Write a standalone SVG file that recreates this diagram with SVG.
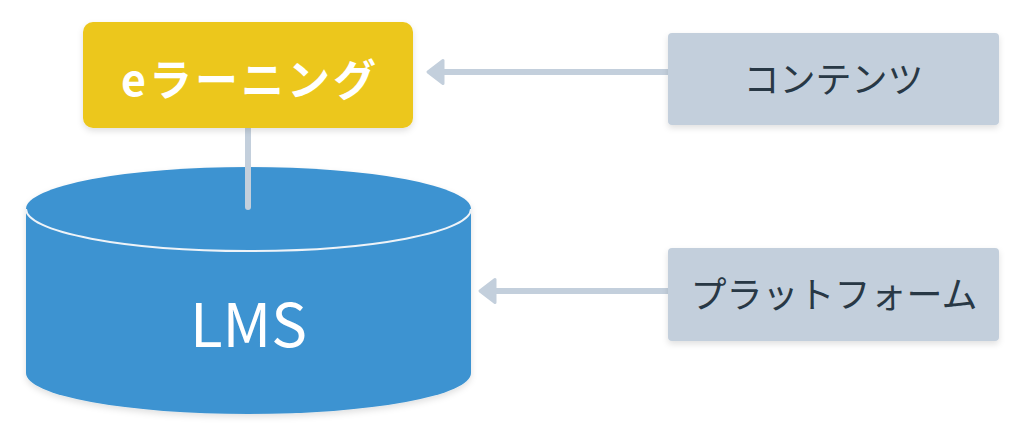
<svg xmlns="http://www.w3.org/2000/svg" width="1024" height="444" viewBox="0 0 1024 444">
  <style>
    .cjk { font-family: "Noto Sans CJK JP", "Noto Sans", sans-serif; }
    .gray { fill: #C3CFDC; }
    .dark { fill: #283845; font-size: 36px; font-weight: 400; }
    .conn { stroke: #C3CFDC; stroke-width: 6; fill: none; }
  </style>
  <defs>
    <filter id="sh" x="-10%" y="-10%" width="120%" height="130%">
      <feDropShadow dx="0" dy="3" stdDeviation="3" flood-color="#000" flood-opacity="0.12"/>
    </filter>
    <marker id="ah" markerUnits="userSpaceOnUse" viewBox="-3 -15 22 30" markerWidth="22" markerHeight="30" refX="0" refY="0" orient="auto">
      <path d="M0,-11.5 L15,0 L0,11.5 Z" fill="#C3CFDC" stroke="#C3CFDC" stroke-width="3" stroke-linejoin="round"/>
    </marker>
  </defs>
  <rect width="1024" height="444" fill="#FFFFFF"/>

  <g id="lms">
    <path d="M26,209 A222.5,42 0 0 1 471,209 L471,373 A222.5,41 0 0 1 26,373 Z" fill="#3D93D1" filter="url(#sh)"/>
    <path d="M26,209 A222.5,42 0 0 0 471,209" fill="none" stroke="#EEF3F8" stroke-width="2"/>
    <text x="248.5" y="347" class="cjk" font-size="60" fill="#FFFFFF" text-anchor="middle">LMS</text>
  </g>

  <g id="connectors">
    <line class="conn" x1="248" y1="128" x2="248" y2="207" stroke-linecap="round"/>
    <line class="conn" x1="668" y1="72" x2="443" y2="72" marker-end="url(#ah)"/>
    <line class="conn" x1="668" y1="291" x2="495" y2="291" marker-end="url(#ah)"/>
  </g>

  <g id="elearning">
    <rect x="83" y="22" width="330" height="106" rx="10" fill="#ECC71F" filter="url(#sh)"/>
    <text x="250" y="96" class="cjk" font-size="43" font-weight="700" fill="#FFFFFF" text-anchor="middle" letter-spacing="3">eラーニング</text>
  </g>

  <g id="contents">
    <rect x="668" y="33" width="331" height="92" rx="4" class="gray" filter="url(#sh)"/>
    <text x="833.5" y="93" class="cjk dark" text-anchor="middle">コンテンツ</text>
  </g>

  <g id="platform">
    <rect x="668" y="248" width="331" height="93" rx="4" class="gray" filter="url(#sh)"/>
    <text x="834" y="308" class="cjk dark" text-anchor="middle">プラットフォーム</text>
  </g>
</svg>
